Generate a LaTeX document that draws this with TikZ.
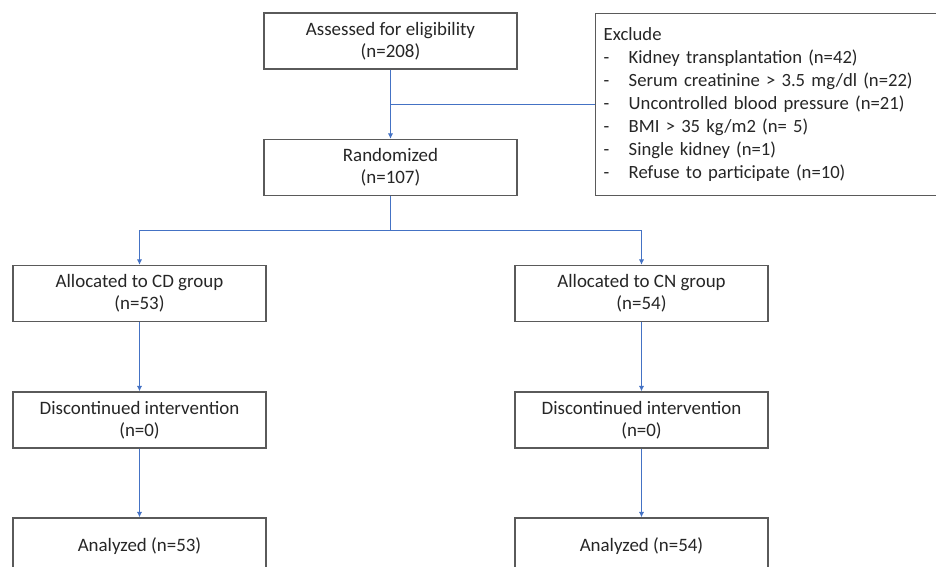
\documentclass[tikz,border=0pt]{standalone}
\usepackage{fontspec}
\setmainfont{Carlito}
\usetikzlibrary{arrows.meta,positioning}
\definecolor{linkblue}{HTML}{4472C4}
\definecolor{boxgray}{HTML}{5A5A5A}
\definecolor{txtgray}{HTML}{262626}

\tikzset{
  box/.style={rectangle, draw=boxgray, line width=1.1pt, fill=white, text=txtgray,
    minimum width=189.75pt, minimum height=42pt, align=center, inner sep=2pt,
    font=\fontsize{14.2}{16.5}\selectfont},
  link/.style={draw=linkblue, line width=0.8pt},
  linkarrow/.style={link, -{Latex[length=4pt,width=4pt]}}
}

\begin{document}
\begin{tikzpicture}[x=0.75pt, y=-0.75pt]
  \useasboundingbox (0,0) rectangle (936,567);
  \clip (0,0) rectangle (936,567);

  % Enrollment
  \node[box] (assess) at (390.5,41) {Assessed for eligibility\\(n=208)};
  \node[box] (random) at (390.5,167.5) {Randomized\\(n=107)};
  \node[box, minimum width=262.5pt, minimum height=136.5pt, text width=250.5pt,
        align=left, inner xsep=6pt, anchor=north west,
        font=\fontsize{14}{17.25}\selectfont] (exclude) at (595,13)
    {Exclude\\
     \makebox[18.75pt][l]{-}Kidney transplantation (n=42)\\
     \makebox[18.75pt][l]{-}Serum creatinine > 3.5 mg/dl (n=22)\\
     \makebox[18.75pt][l]{-}Uncontrolled blood pressure (n=21)\\
     \makebox[18.75pt][l]{-}BMI > 35 kg/m2 (n= 5)\\
     \makebox[18.75pt][l]{-}Single kidney (n=1)\\
     \makebox[18.75pt][l]{-}Refuse to participate (n=10)};

  % Allocation
  \node[box] (cdgrp) at (139.5,293.5) {Allocated to CD group\\(n=53)};
  \node[box] (cngrp) at (641.5,293.5) {Allocated to CN group\\(n=54)};

  % Follow-up
  \node[box] (cddisc) at (139.5,420) {Discontinued intervention\\(n=0)};
  \node[box] (cndisc) at (641.5,420) {Discontinued intervention\\(n=0)};

  % Analysis
  \node[box] (cdana) at (139.5,546) {Analyzed (n=53)};
  \node[box] (cnana) at (641.5,546) {Analyzed (n=54)};

  % Connections
  \coordinate (fork) at (random.south |- 0,230.5);
  \draw[linkarrow] (assess) -- (random);
  \draw[link] (assess.south |- exclude.west) -- (exclude.west);
  \draw[link] (random.south) -- (fork);
  \draw[linkarrow] (fork) -| (cdgrp.north);
  \draw[linkarrow] (fork) -| (cngrp.north);
  \draw[linkarrow] (cdgrp) -- (cddisc);
  \draw[linkarrow] (cngrp) -- (cndisc);
  \draw[linkarrow] (cddisc) -- (cdana);
  \draw[linkarrow] (cndisc) -- (cnana);
\end{tikzpicture}
\end{document}
